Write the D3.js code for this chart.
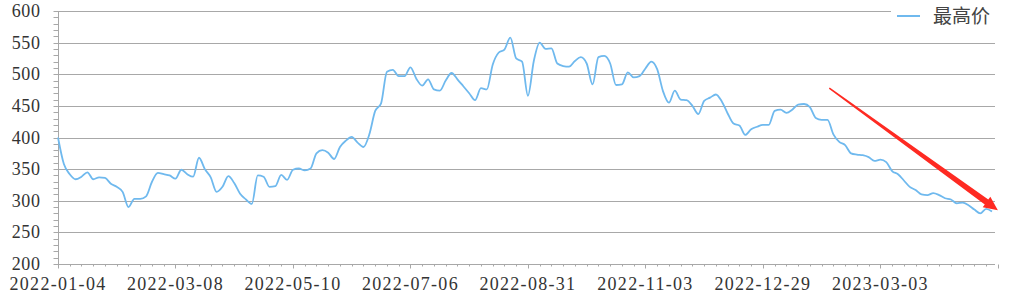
<!DOCTYPE html>
<html lang="zh">
<head>
<meta charset="utf-8">
<title>最高价</title>
<script src="https://d3js.org/d3.v7.min.js"></script>
<style>
  body { margin: 0; background: #fff; }
  .tickT { font-family: 'Liberation Serif', serif; font-size: 18px; fill: #333; letter-spacing: 0.6px; }
  .xT { letter-spacing: 1.3px; }
  .legendT { font-family: 'Noto Sans CJK SC', sans-serif; font-size: 19px; fill: #444; }
</style>
</head>
<body>
<div id="container"></div>
<script>
// data (one value per two trading days)
var seriesName = '最高价';
var dateLabels = ['2022-01-04', '2022-03-08', '2022-05-10', '2022-07-06',
                  '2022-08-31', '2022-11-03', '2022-12-29', '2023-03-03'];
var labelEvery = 20;
var yTicks = [200, 250, 300, 350, 400, 450, 500, 550, 600];
var highPrice = [
  400, 358, 342, 334, 338, 345, 334, 337, 336, 327,
  322, 314, 290, 303, 303, 307, 330, 344, 342, 340,
  335, 349, 342, 338, 368, 350, 337, 314, 322, 339,
  328, 311, 302, 295, 340, 338, 322, 323, 341, 333,
  349, 351, 348, 351, 375, 380, 376, 366, 385, 395,
  401, 392, 385, 405, 442, 454, 504, 507, 497, 497,
  511, 493, 482, 492, 476, 474, 490, 502, 492, 481,
  470, 459, 478, 476, 515, 534, 539, 558, 525, 520,
  466, 521, 550, 540, 541, 517, 513, 512, 521, 527,
  517, 484, 527, 529, 517, 483, 484, 503, 495, 497,
  509, 520, 508, 473, 455, 474, 460, 459, 450, 437,
  458, 463, 468, 457, 438, 422, 419, 404, 413, 417,
  420, 420, 442, 444, 439, 444, 452, 453, 448, 431,
  428, 428, 405, 393, 388, 375, 373, 372, 369, 363,
  365, 361, 347, 342, 332, 322, 317, 310, 309, 312,
  309, 304, 302, 296, 297, 293, 286, 280, 287, 283
];
// trend arrow, in data units [index, value]
var arrowFrom = [131.3, 478];
var arrowTo = [160, 285];

var width = 1015, height = 302;
var margin = {top: 11, right: 20, bottom: 38, left: 58};
var plotRight = width - margin.right;

var svg = d3.select('#container')
            .append('svg')
            .attr('width', width)
            .attr('height', height);

var xScale = d3.scaleLinear()
               .domain([0, highPrice.length - 1])
               .range([margin.left, 992]);
var yScale = d3.scaleLinear()
               .domain([yTicks[0], yTicks[yTicks.length - 1]])
               .range([height - margin.bottom, margin.top]);

// grid lines
svg.append('g')
   .selectAll('line')
   .data(yTicks.slice(1))
   .enter()
   .append('line')
   .attr('x1', margin.left)
   .attr('x2', plotRight)
   .attr('y1', d => Math.round(yScale(d)) + 0.5)
   .attr('y2', d => Math.round(yScale(d)) + 0.5)
   .attr('stroke', '#a8a8a8')
   .attr('stroke-width', 1);

// y axis: minor ticks every 10
var yMinor = d3.range(yTicks[0], yTicks[yTicks.length - 1] + 1, 10);
var yAxis = svg.append('g')
   .attr('transform', 'translate(' + (margin.left + 0.5) + ',0)');
yAxis.selectAll('.ytick')
   .data(yMinor)
   .enter()
   .append('line')
   .attr('x1', -5)
   .attr('x2', 0)
   .attr('y1', d => Math.round(yScale(d)) + 0.5)
   .attr('y2', d => Math.round(yScale(d)) + 0.5)
   .attr('stroke', '#a8a8a8');
yAxis.append('line')
   .attr('y1', yScale.range()[1])
   .attr('y2', yScale.range()[0])
   .attr('stroke', '#a8a8a8');
yAxis.selectAll('text')
   .data(yTicks)
   .enter()
   .append('text')
   .attr('class', 'tickT')
   .attr('x', -18)
   .attr('y', d => yScale(d))
   .attr('dy', '0.34em')
   .attr('text-anchor', 'end')
   .text(d => d);

// x axis: minor tick every 2 points, label every 20
var xMinor = d3.range(0, highPrice.length + 1, 2);
var xAxisY = Math.round(yScale(yTicks[0])) + 0.5;
var xAxis = svg.append('g');
xAxis.append('line')
   .attr('x1', margin.left)
   .attr('x2', plotRight)
   .attr('y1', xAxisY)
   .attr('y2', xAxisY)
   .attr('stroke', '#a8a8a8');
xAxis.selectAll('.xminor')
   .data(xMinor)
   .enter()
   .append('line')
   .attr('x1', d => Math.round(xScale(d)) + 0.5)
   .attr('x2', d => Math.round(xScale(d)) + 0.5)
   .attr('y1', xAxisY)
   .attr('y2', d => xAxisY + (d % labelEvery === 0 ? 4 : 2))
   .attr('stroke', '#a8a8a8');
xAxis.selectAll('text')
   .data(dateLabels)
   .enter()
   .append('text')
   .attr('class', 'tickT xT')
   .attr('x', (d, i) => xScale(i * labelEvery))
   .attr('y', xAxisY + 19)
   .attr('dy', '0.34em')
   .attr('text-anchor', 'middle')
   .text(d => d);

// series line
var line = d3.line()
             .x((d, i) => xScale(i))
             .y(d => yScale(d))
             .curve(d3.curveMonotoneX);
svg.append('path')
   .datum(highPrice)
   .attr('fill', 'none')
   .attr('stroke', '#6fb9ee')
   .attr('stroke-width', 1.8)
   .attr('stroke-linejoin', 'round')
   .attr('d', line);

// legend
var legend = svg.append('g');
legend.append('rect')
   .attr('x', 891)
   .attr('y', 2)
   .attr('width', 110)
   .attr('height', 27)
   .attr('fill', '#fff');
legend.append('line')
   .attr('x1', 897)
   .attr('x2', 920)
   .attr('y1', 16)
   .attr('y2', 16)
   .attr('stroke', '#6fb9ee')
   .attr('stroke-width', 2);
legend.append('text')
   .attr('class', 'legendT')
   .attr('x', 933)
   .attr('y', 16)
   .attr('dy', '0.36em')
   .text(seriesName);

// arrow
var p0 = [xScale(arrowFrom[0]), yScale(arrowFrom[1])];
var p1 = [xScale(arrowTo[0]), yScale(arrowTo[1])];
var dx = p1[0] - p0[0], dy = p1[1] - p0[1];
var len = Math.sqrt(dx * dx + dy * dy);
var ux = dx / len, uy = dy / len, nx = -uy, ny = ux;
var headLen = 14, w0 = 1.5, w1 = 6, hw = 13;
var neck = [p1[0] - ux * headLen, p1[1] - uy * headLen];
var pts = [
  [p0[0] + nx * w0 / 2, p0[1] + ny * w0 / 2],
  [neck[0] + nx * w1 / 2, neck[1] + ny * w1 / 2],
  [neck[0] + nx * hw / 2, neck[1] + ny * hw / 2],
  p1,
  [neck[0] - nx * hw / 2, neck[1] - ny * hw / 2],
  [neck[0] - nx * w1 / 2, neck[1] - ny * w1 / 2],
  [p0[0] - nx * w0 / 2, p0[1] - ny * w0 / 2]
];
svg.append('polygon')
   .attr('points', pts.map(p => p.join(',')).join(' '))
   .attr('fill', '#fe2a22');
</script>
</body>
</html>
